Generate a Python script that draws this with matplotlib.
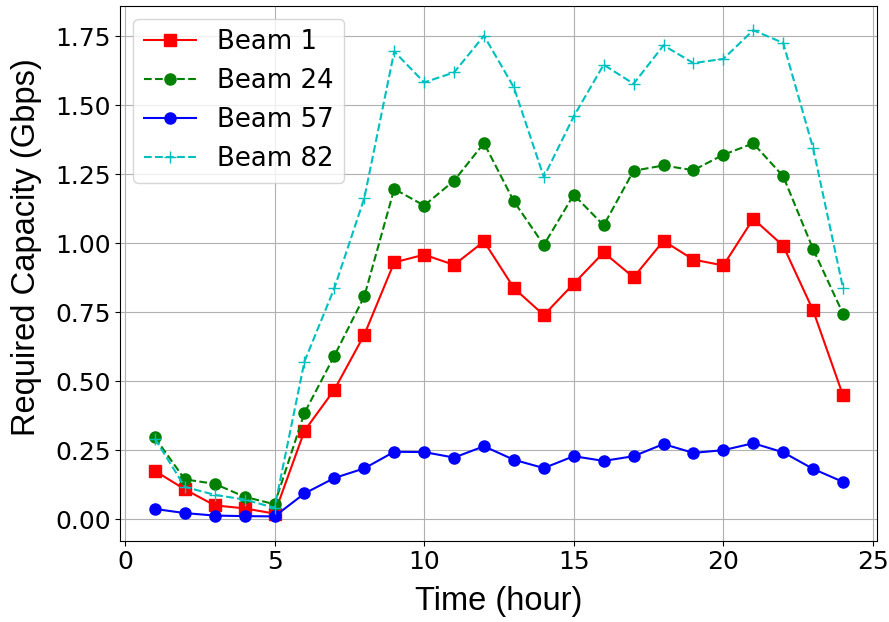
import matplotlib
matplotlib.use("Agg")
import matplotlib.pyplot as plt

hours = list(range(1, 25))
beam1 = [0.175, 0.108, 0.050, 0.039, 0.020, 0.320, 0.469, 0.668, 0.930, 0.958, 0.921, 1.006,
         0.837, 0.739, 0.853, 0.966, 0.876, 1.008, 0.940, 0.919, 1.088, 0.990, 0.756, 0.448]
beam24 = [0.296, 0.144, 0.128, 0.081, 0.054, 0.385, 0.592, 0.807, 1.196, 1.136, 1.226, 1.362,
          1.151, 0.993, 1.175, 1.064, 1.262, 1.281, 1.264, 1.320, 1.361, 1.242, 0.978, 0.744]
beam57 = [0.037, 0.022, 0.013, 0.011, 0.010, 0.093, 0.149, 0.184, 0.244, 0.243, 0.223, 0.264,
          0.215, 0.185, 0.228, 0.211, 0.228, 0.272, 0.240, 0.250, 0.275, 0.242, 0.182, 0.135]
beam82 = [0.292, 0.117, 0.088, 0.071, 0.041, 0.571, 0.837, 1.163, 1.694, 1.582, 1.618, 1.751,
          1.564, 1.239, 1.459, 1.646, 1.577, 1.716, 1.652, 1.667, 1.771, 1.725, 1.344, 0.837]

fig = plt.figure(figsize=(8.89, 6.22), dpi=100)
ax = fig.add_axes([0.1355, 0.1307, 0.987 - 0.1355, 0.9905 - 0.1307])

ax.plot(hours, beam1, 'r-s', label='Beam 1', markersize=8)
ax.plot(hours, beam24, 'g--o', label='Beam 24', markersize=8)
ax.plot(hours, beam57, 'b-o', label='Beam 57', markersize=8)
ax.plot(hours, beam82, 'c--+', label='Beam 82', markersize=8)

ax.grid(True)
ax.set_xlabel('Time (hour)', fontsize=23.5, family='Liberation Sans', labelpad=8)
ax.set_ylabel('Required Capacity (Gbps)', fontsize=23.5, family='Liberation Sans')
ax.yaxis.set_label_coords(-0.104, 0.549)
ax.tick_params(labelsize=18)
ax.legend(fontsize=18.7, loc='upper left')

fig.savefig('out.png', dpi=100)
